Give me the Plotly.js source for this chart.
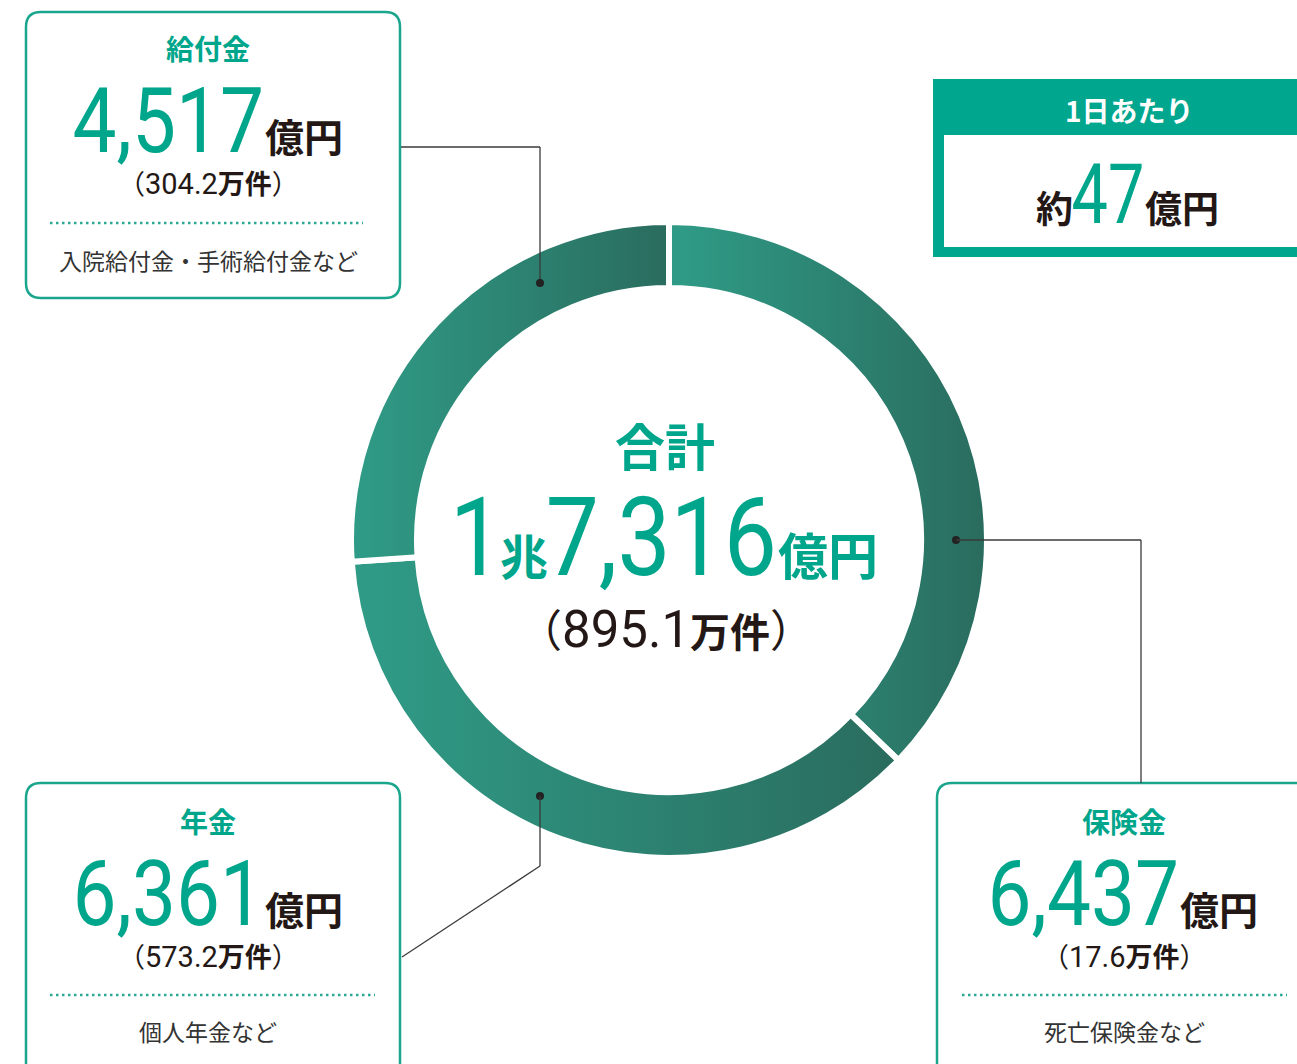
<!DOCTYPE html>
<html><head><meta charset="utf-8">
<script src="https://cdn.plot.ly/plotly-3.0.1.min.js"></script>
<style>html,body{margin:0;padding:0;background:#fff;}#chart{width:1297px;height:1064px;}</style>
</head><body><div id="chart"></div>
<script>
// ---- data ----
const categories = ['保険金', '年金', '給付金'];
const amounts = [6437, 6361, 4517];          // 億円
const counts = [17.6, 573.2, 304.2];         // 万件
const examples = ['死亡保険金など', '個人年金など', '入院給付金・手術給付金など'];
const totalTitle = '合計';
const totalCho = 1;          // 兆
const totalOku = 7316;       // 億円
const totalCount = 895.1;    // 万件
const dailyTitle = '1日あたり';
const dailyAmount = 47;      // 億円

// ---- styling ----
const TEAL = '#00a68b';
const DARK = '#231815';
const GREY = '#333333';
const JP = 'Noto Sans CJK JP';
const NUM = 'Roboto';
const W = 1297, H = 1064;

const fmt = v => v.toLocaleString('en-US');
const sp = (t, fam, size, color, bold) =>
  `<span style="font-family:${fam};font-size:${size}px;color:${color};${bold ? 'font-weight:bold;' : ''}">${t}</span>`;

// pie geometry (pixels)
const cx = 669, cy = 540, R = 318, Rin = 252;
const pie = {
  type: 'pie', values: amounts, labels: categories, sort: false,
  direction: 'clockwise', rotation: 0, hole: Rin / R,
  textinfo: 'none', hoverinfo: 'skip',
  marker: { colors: ['#2c8a77', '#2c8a77', '#2c8a77'], line: { color: '#ffffff', width: 6 } },
  domain: { x: [(cx - R) / W, (cx + R) / W], y: [(H - cy - R) / H, (H - cy + R) / H] }
};

// box layout (pixel positions) for each category
const boxes = [
  { x0: 937, x1: 1320, y0: 783, y1: 1080, tx: 1124, tb: 833, ax: 1179, ab: 925, cb: 967, dot: [962, 1287, 995], eb: 1041 },
  { x0: 26, x1: 400, y0: 783, y1: 1080, tx: 208, tb: 833, ax: 264, ab: 925, cb: 967, dot: [50, 375, 995], eb: 1041 },
  { x0: 26, x1: 400, y0: 12, y1: 298, tx: 208, tb: 60, ax: 264, ab: 152, cb: 194, dot: [50, 363, 223], eb: 270 }
];

function roundRect(x0, y0, x1, y1, r) {
  return `M${x0 + r},${y0} L${x1 - r},${y0} Q${x1},${y0} ${x1},${y0 + r} L${x1},${y1 - r} Q${x1},${y1} ${x1 - r},${y1} ` +
         `L${x0 + r},${y1} Q${x0},${y1} ${x0},${y1 - r} L${x0},${y0 + r} Q${x0},${y0} ${x0 + r},${y0} Z`;
}

const shapes = [];
const annotations = [];
const condense = {};   // annotation index -> horizontal scale (narrow numeral face)
// y given as text baseline; converted to the middle of the font box
function ann(x, anchor, baseline, text, size, color, opts) {
  opts = opts || {};
  const k = opts.num ? 0.3415 : 0.436;   // Roboto / Noto Sans CJK box centre above baseline
  annotations.push({
    x, y: baseline - k * (opts.boxSize || size), xref: 'x', yref: 'y', text, showarrow: false,
    xanchor: anchor, yanchor: 'middle', align: 'center', borderpad: 0, borderwidth: 0,
    font: { family: opts.num ? NUM : JP, size, color, weight: opts.bold ? 'bold' : 'normal' }
  });
  if (opts.scale) condense[annotations.length - 1] = { s: opts.scale, anchor };
}

categories.forEach((c, i) => {
  const b = boxes[i];
  shapes.push({ type: 'path', xref: 'x', yref: 'y', path: roundRect(b.x0, b.y0, b.x1, b.y1, 15),
    line: { color: '#1aa68d', width: 2.5 }, fillcolor: 'rgba(0,0,0,0)' });
  shapes.push({ type: 'line', xref: 'x', yref: 'y', x0: b.dot[0], x1: b.dot[1], y0: b.dot[2], y1: b.dot[2],
    line: { color: '#2aaa94', width: 2.5, dash: '2.5px,3.5px' } });
  ann(b.tx, 'center', b.tb, c, 28, TEAL, { bold: true });
  ann(b.ax, 'right', b.ab, fmt(amounts[i]), 90, TEAL, { num: true, scale: 0.87 });
  ann(b.ax + 1, 'left', b.ab, '億円', 39, DARK, { bold: true });
  ann(b.tx, 'center', b.cb,
    '（' + sp(String(counts[i]), NUM, 29, DARK) + '<b>万件</b>）', 27, DARK, { boxSize: 27 });
  ann(b.tx, 'center', b.eb, examples[i], 23, GREY);
});

// leader lines
const LC = '#3a3a3a';
const seg = (x0, y0, x1, y1) => shapes.push({ type: 'line', xref: 'x', yref: 'y', x0, y0, x1, y1, line: { color: LC, width: 1.3 } });
const dotAt = (x, y) => shapes.push({ type: 'circle', xref: 'x', yref: 'y', x0: x - 4, x1: x + 4, y0: y - 4, y1: y + 4, fillcolor: '#222', line: { width: 0 } });
seg(401, 147, 540, 147); seg(540, 147, 540, 283); dotAt(540, 283);
dotAt(956, 540); seg(956, 540, 1141, 540); seg(1141, 540, 1141, 783);
dotAt(540, 796); seg(540, 796, 540, 866); seg(540, 866, 402, 957);

// daily box
shapes.push({ type: 'rect', xref: 'x', yref: 'y', x0: 933, x1: 1310, y0: 79, y1: 257, fillcolor: '#00a68e', line: { width: 0 }, layer: 'below' });
shapes.push({ type: 'rect', xref: 'x', yref: 'y', x0: 944, x1: 1310, y0: 135, y1: 247, fillcolor: '#ffffff', line: { width: 0 }, layer: 'below' });
ann(1129, 'center', 122, dailyTitle, 28, '#ffffff', { bold: true });
ann(1073, 'right', 223, '約', 37, DARK, { bold: true });
ann(1144, 'right', 223, String(dailyAmount), 83, TEAL, { num: true, scale: 0.78 });
ann(1145, 'left', 223, '億円', 37, DARK, { bold: true });

// center
ann(665, 'center', 466, totalTitle, 50, TEAL, { bold: true });
ann(503, 'right', 575, String(totalCho), 110, TEAL, { num: true, scale: 0.86 });
ann(500, 'left', 575, '兆', 48, TEAL, { bold: true });
ann(777, 'right', 575, fmt(totalOku), 110, TEAL, { num: true, scale: 0.86 });
ann(778, 'left', 575, '億円', 50, TEAL, { bold: true });
ann(666, 'center', 647,
  '（' + sp(String(totalCount), NUM, 51, DARK) + '<b>' + sp('万件', JP, 40, DARK) + '</b>）', 44, DARK);

const layout = {
  width: W, height: H, margin: { l: 0, r: 0, t: 0, b: 0 },
  paper_bgcolor: '#ffffff', plot_bgcolor: 'rgba(0,0,0,0)', showlegend: false,
  xaxis: { range: [0, W], visible: false, fixedrange: true },
  yaxis: { range: [H, 0], visible: false, fixedrange: true },
  shapes, annotations
};

Plotly.newPlot('chart', [pie], layout, { staticPlot: true, displayModeBar: false }).then(gd => {
  const svg = gd.querySelector('svg.main-svg');
  const ns = 'http://www.w3.org/2000/svg';
  let defs = svg.querySelector('defs');
  if (!defs) { defs = document.createElementNS(ns, 'defs'); svg.insertBefore(defs, svg.firstChild); }
  const g = document.createElementNS(ns, 'linearGradient');
  g.setAttribute('id', 'ringGrad');
  g.setAttribute('x1', '0'); g.setAttribute('y1', '0'); g.setAttribute('x2', '1'); g.setAttribute('y2', '0');
  [['0', '#2f9c87'], ['1', '#2a6c5e']].forEach(([o, c]) => {
    const s = document.createElementNS(ns, 'stop');
    s.setAttribute('offset', o); s.setAttribute('stop-color', c); g.appendChild(s);
  });
  defs.appendChild(g);
  gd.querySelectorAll('.pielayer path.surface').forEach(p => { p.style.fill = 'url(#ringGrad)'; });
  // narrow numerals: scale the number annotations horizontally about their anchor edge
  gd.querySelectorAll('g.annotation').forEach(a => {
    const idx = +a.getAttribute('data-index');
    const c = condense[idx];
    if (!c) return;
    const t = a.querySelector('text.annotation-text');
    const bb = t.getBBox();
    const ax = c.anchor === 'right' ? bb.x + bb.width : c.anchor === 'left' ? bb.x : bb.x + bb.width / 2;
    t.setAttribute('transform', `translate(${ax},0) scale(${c.s},1) translate(${-ax},0)`);
  });
});
</script></body></html>
